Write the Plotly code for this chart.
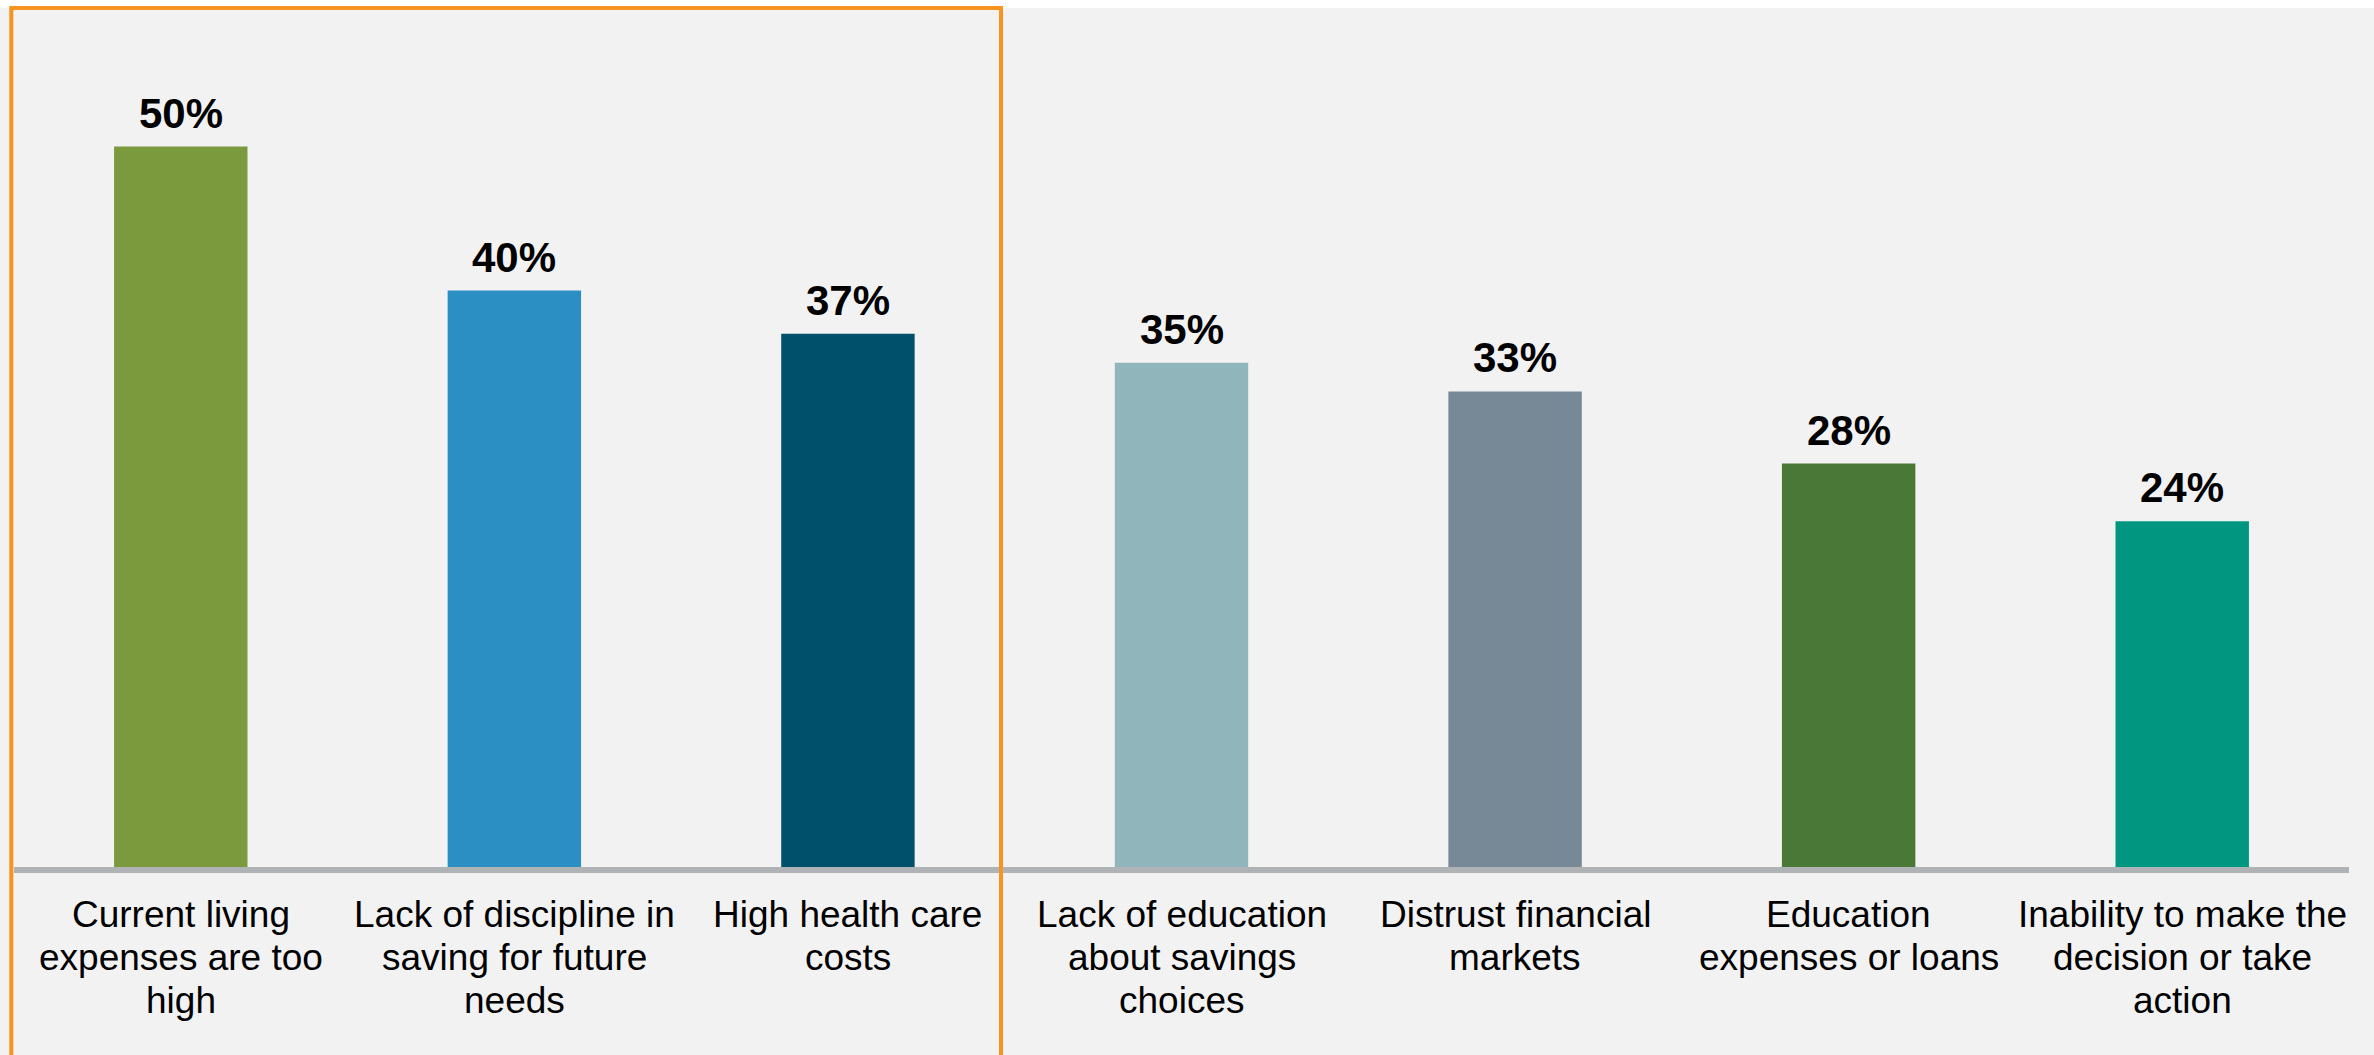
import plotly.graph_objects as go

# Reasons for not saving more (share of respondents)
categories = [
    "Current living<br>expenses are too<br>high",
    "Lack of discipline in<br>saving for future<br>needs",
    "High health care<br>costs",
    "Lack of education<br>about savings<br>choices",
    "Distrust financial<br>markets",
    "Education<br>expenses or loans",
    "Inability to make the<br>decision or take<br>action",
]
values = [50, 40, 37, 35, 33, 28, 24]
bar_colors = ["#7B9A3E", "#2B8FC4", "#00506B", "#90B5BA", "#778896", "#4A7837", "#00967F"]

FONT = "Arial, 'Liberation Sans', sans-serif"
W, H = 2374, 1055
M_L, M_R, M_T, M_B = 14, 25, 8, 188
plot_w = W - M_L - M_R
plot_h = H - M_T - M_B

LABEL_SIZE = 37
LINE_GAP = 43      # px between baselines of category label lines
FIRST_TOP = -24.5  # px offset of first label line box from the axis

fig = go.Figure(
    go.Bar(
        x=list(range(len(categories))),
        y=values,
        marker=dict(color=bar_colors, line=dict(width=0)),
        width=0.4,
        cliponaxis=False,
        hoverinfo="skip",
    )
)

annotations = []
# value labels above the bars
for i, v in enumerate(values):
    annotations.append(dict(
        x=i, y=v, xref="x", yref="y",
        text=f"<b>{v}%</b>", showarrow=False,
        xanchor="center", yanchor="bottom", yshift=8,
        font=dict(family=FONT, size=42, color="#000000"),
    ))
# category labels below the axis, one annotation per line
for i, label in enumerate(categories):
    for j, line in enumerate(label.split("<br>")):
        annotations.append(dict(
            x=i, y=0, xref="x", yref="paper",
            text=line, showarrow=False,
            xanchor="center", yanchor="top",
            yshift=FIRST_TOP - j * LINE_GAP,
            font=dict(family=FONT, size=LABEL_SIZE, color="#000000"),
        ))

fig.update_layout(
    width=W,
    height=H,
    margin=dict(l=M_L, r=M_R, t=M_T, b=M_B, pad=0),
    paper_bgcolor="#F2F2F2",
    plot_bgcolor="#F2F2F2",
    showlegend=False,
    font=dict(family=FONT, color="#000000"),
    xaxis=dict(
        range=[-0.5, len(categories) - 0.5],
        showgrid=False,
        zeroline=False,
        showline=True,
        linecolor="#AFB3B5",
        linewidth=6,
        ticks="",
        showticklabels=False,
        fixedrange=True,
    ),
    yaxis=dict(
        range=[0, plot_h / 14.41],
        visible=False,
        fixedrange=True,
    ),
    annotations=annotations,
    shapes=[
        # white strip along the top edge of the page
        dict(
            type="rect", xref="paper", yref="paper",
            x0=-1, x1=2, y0=1, y1=1 + 40 / plot_h,
            fillcolor="#FFFFFF", line=dict(width=0), layer="below",
        ),
        # highlight frame around the first three reasons
        dict(
            type="rect", xref="paper", yref="paper",
            x0=(11.3 - M_L) / plot_w, x1=(1001 - M_L) / plot_w,
            y0=-(H + 10 - (M_T + plot_h)) / plot_h, y1=1,
            line=dict(color="#F7931E", width=4),
            fillcolor="rgba(0,0,0,0)", layer="above",
        ),
    ],
)

fig.write_html("out.html")
